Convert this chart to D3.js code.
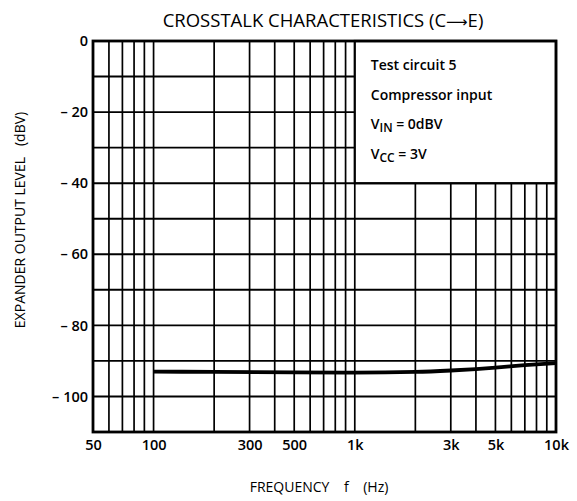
<!DOCTYPE html>
<html>
<head>
<meta charset="utf-8">
<script src="https://cdn.jsdelivr.net/npm/d3@7"></script>
<style>
  body { margin: 0; background: #fff; }
  text { font-family: 'Open Sans', sans-serif; fill: #000; }
</style>
</head>
<body>
<div id="chart"></div>
<script>
// data
const freqs = [100, 200, 500, 1000, 2000, 3000, 4000, 5000, 7000, 10000]
const levels = [-93, -93.1, -93.2, -93.3, -93.1, -92.7, -92.3, -91.9, -91.2, -90.6]

const xTicks = [50, 100, 300, 500, 1000, 3000, 5000, 10000]
const xTickLabels = ['50', '100', '300', '500', '1k', '3k', '5k', '10k']
const yTicks = [0, -20, -40, -60, -80, -100]
const legendLines = ['Test circuit 5', 'Compressor input', ['V', 'IN', ' = 0dBV'], ['V', 'CC', ' = 3V']]

const margin = { top: 41, right: 21, bottom: 69, left: 93 }
const width = 577 - margin.left - margin.right
const height = 501 - margin.top - margin.bottom

const root = d3.select('#chart')
  .append('svg')
  .attr('width', 577)
  .attr('height', 501)

const svg = root.append('g')
  .attr('transform', 'translate(' + margin.left + ',' + margin.top + ')')

const x = d3.scaleLog().domain([50, 10000]).range([0, width])
const y = d3.scaleLinear().domain([0, -110]).range([0, height])

// grid lines: 60..90, 100..900, 1k..9k
const gridX = []
for (let dec = 10; dec <= 1000; dec *= 10) {
  for (let m = 1; m <= 9; m++) {
    const v = m * dec
    if (v > 50 && v < 10000) gridX.push(v)
  }
}
const gridY = d3.range(-10, -110, -10)

svg.append('g')
  .selectAll('line')
  .data(gridX)
  .enter()
  .append('line')
  .attr('x1', d => x(d))
  .attr('x2', d => x(d))
  .attr('y1', 0)
  .attr('y2', height)
  .attr('stroke', '#000')
  .attr('stroke-width', 1.7)

svg.append('g')
  .selectAll('line')
  .data(gridY)
  .enter()
  .append('line')
  .attr('x1', 0)
  .attr('x2', width)
  .attr('y1', d => y(d))
  .attr('y2', d => y(d))
  .attr('stroke', '#000')
  .attr('stroke-width', 1.9)

// legend box sits over the grid, 1k..10k, 0..-40
const legend = svg.append('g')
legend.append('rect')
  .attr('x', x(1000))
  .attr('y', y(0))
  .attr('width', x(10000) - x(1000))
  .attr('height', y(-40) - y(0))
  .attr('fill', '#fff')
  .attr('stroke', '#000')
  .attr('stroke-width', 2.2)

legendLines.forEach((line, i) => {
  const t = legend.append('text')
    .attr('x', x(1000) + 16)
    .attr('y', 29 + i * 29.5)
    .attr('font-size', 14)
    .attr('font-weight', 600)
  if (typeof line === 'string') {
    t.text(line)
  } else {
    t.append('tspan').text(line[0])
    t.append('tspan').attr('dy', 3).attr('font-size', 12).text(line[1])
    t.append('tspan').attr('dy', -3).text(line[2])
  }
})

// curve
const lineGen = d3.line()
  .x((d, i) => x(freqs[i]))
  .y(d => y(d))
  .curve(d3.curveMonotoneX)

svg.append('path')
  .datum(levels)
  .attr('d', lineGen)
  .attr('fill', 'none')
  .attr('stroke', '#000')
  .attr('stroke-width', 3.8)

// frame
svg.append('rect')
  .attr('width', width)
  .attr('height', height)
  .attr('fill', 'none')
  .attr('stroke', '#000')
  .attr('stroke-width', 2.8)

// axes
const xAxis = d3.axisBottom(x)
  .tickValues(xTicks)
  .tickFormat((d, i) => xTickLabels[i])
  .tickSize(0)
  .tickPadding(8)

svg.append('g')
  .attr('class', 'x-axis')
  .attr('transform', 'translate(0,' + height + ')')
  .call(xAxis)

const yAxis = d3.axisLeft(y)
  .tickValues(yTicks)
  .tickFormat(d => d === 0 ? '0' : '\u2013 ' + (-d))
  .tickSize(0)
  .tickPadding(5)

svg.append('g')
  .attr('class', 'y-axis')
  .call(yAxis)

svg.selectAll('.domain').remove()
svg.selectAll('.tick text')
  .attr('font-family', "'Open Sans', sans-serif")
  .attr('font-size', 14.5)
  .attr('font-weight', 600)
  .attr('fill', '#000')

// titles
const title = root.append('text')
  .attr('x', 323)
  .attr('y', 27)
  .attr('text-anchor', 'middle')
  .attr('font-size', 18.5)
title.append('tspan').text('CROSSTALK CHARACTERISTICS (C')
title.append('tspan').attr('font-family', 'DejaVu Sans').attr('font-size', 15).text('\u27F6')
title.append('tspan').text('E)')

root.append('text')
  .attr('x', 319)
  .attr('y', 492)
  .attr('text-anchor', 'middle')
  .attr('font-size', 14)
  .style('white-space', 'pre')
  .text('FREQUENCY    f    (Hz)')

root.append('text')
  .attr('transform', 'translate(25,220) rotate(-90)')
  .attr('text-anchor', 'middle')
  .attr('font-size', 14)
  .style('white-space', 'pre')
  .text('EXPANDER OUTPUT LEVEL   (dBV)')
</script>
</body>
</html>
